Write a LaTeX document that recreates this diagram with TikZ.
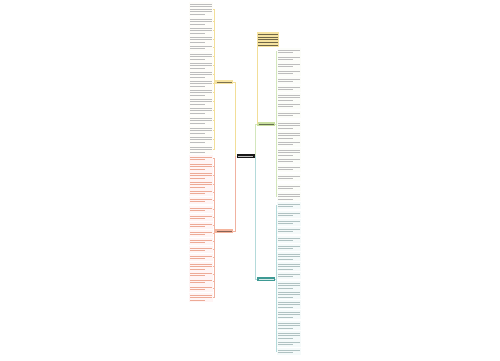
\documentclass[tikz,border=0pt]{standalone}
\definecolor{ylw}{HTML}{F6E3A0}
\definecolor{ylwline}{HTML}{F2DE98}
\definecolor{pnk}{HTML}{F5B49C}
\definecolor{pnkline}{HTML}{F0B2A0}
\definecolor{grn}{HTML}{C9DFA0}
\definecolor{grnline}{HTML}{D3E6BC}
\definecolor{blu}{HTML}{3E9A94}
\definecolor{bluline}{HTML}{B4DADA}
\definecolor{txtgray}{HTML}{BDBDBD}
\definecolor{txtpink}{HTML}{EDAA96}
\definecolor{txtblue}{HTML}{B0C2C2}
\begin{document}
\begin{tikzpicture}[x=1pt,y=-1pt,
  tcol/.store in=\tcol, tcol=txtgray,
  txt/.style={inner sep=0pt,minimum width=24pt,minimum height=#1*2.6pt+1.2pt,anchor=north west,
    path picture={\foreach \k in {1,...,#1}{
      \pgfmathsetmacro\ee{\k==#1 ? 8 : 1}
      \draw[line width=0.9pt,\tcol] ([xshift=1pt,yshift=-\k*2.6pt+0.8pt]path picture bounding box.north west)
        -- ([xshift=-\ee pt,yshift=-\k*2.6pt+0.8pt]path picture bounding box.north east);}}},
  br/.style={inner sep=0pt,minimum width=18pt,minimum height=3.8pt,fill=#1,
    path picture={\draw[line width=1pt,\tcol] ([xshift=1.5pt]path picture bounding box.west)
        -- ([xshift=-1.5pt]path picture bounding box.east);}},
  link/.style={line width=0.6pt,#1}]
\useasboundingbox (0,0) rectangle (500,360);

% centre and branches
\node[br=black!90,tcol=white!75!black] (ctr) at (245.5,156) {};
\node[br=ylw,tcol=ylw!50!black] (yel) at (224,82) {};
\node[br=pnk,tcol=pnk!55!black] (pin) at (224,231) {};
\node[br=grn,tcol=grn!50!black] (gre) at (266,124) {};
\node[br=blu,tcol=white!80!blu] (blu) at (266,279) {};
\node[inner sep=0pt,minimum width=22pt,minimum height=15pt,fill=ylw,anchor=north west,
  path picture={\foreach \k in {1,...,5}
    \draw[line width=0.9pt,ylw!45!black] ([xshift=1pt,yshift=-\k*2.7pt+0.6pt]path picture bounding box.north west)
      -- ([xshift=-1pt,yshift=-\k*2.7pt+0.6pt]path picture bounding box.north east);}] (note) at (257,32) {};

\draw[link=ylwline] (ctr.west) -- ++(-1,0) |- (yel.east);
\draw[link=pnkline] (ctr.west) -- ++(-1,0) |- (pin.east);
\draw[link=grnline] (ctr.east) -- ++(1,0) |- (gre.west);
\draw[link=bluline] (ctr.east) -- ++(1,0) |- (blu.west);
\draw[link=ylwline] (note.south west) ++(0.5,0) coordinate (nt) -- (nt |- gre.west);

% left column, yellow branch
\foreach \t/\n [count=\i] in {2/5,17/3,26/3,35/3,44/2,52/3,61/3,70/3,79/3,88/3,97/3,106/3,116/3,126/3,135/3,145/3}
  \node[txt=\n,fill=ylw!6] (yt\i) at (189,\t) {};
\coordinate (ysp) at ([xshift=-1pt]yel.west);
\draw[link=ylwline] (yel.west) -- (ysp);
\foreach \i in {1,...,16}
  \draw[link=ylwline] (ysp) |- (yt\i.east);

% left column, pink branch
\foreach \t/\n [count=\i] in {155/2,162/3,171/3,180/3,189/2,197/2,206/2,214/2,222/2,230/2,238/2,246/2,254/2,262/3,271/2,278/2,285/2,293/3}
  \node[txt=\n,tcol=txtpink,fill=red!4] (pt\i) at (189,\t) {};
\coordinate (psp) at ([xshift=-1pt]pin.west);
\draw[link=pnkline] (pin.west) -- (psp);
\foreach \i in {1,...,18}
  \draw[link=pnkline] (psp) |- (pt\i.east);

% right column, green branch
\foreach \t/\n [count=\i] in {48/2,55/2,62/2,69/2,77/2,85/2,93/3,102/2,111/2,121/3,131/3,140/2,148/3,157/2,165/2,174/2,184/2,192/3}
  \node[txt=\n,fill=grn!6] (gt\i) at (277,\t) {};
\coordinate (gsp) at ([xshift=1pt]gre.east);
\draw[link=grnline] (gre.east) -- (gsp);
\foreach \i in {1,...,18}
  \draw[link=grnline] (gsp) |- (gt\i.west);

% right column, blue branch
\foreach \t/\n [count=\i] in {202/2,211/2,219/2,227/2,236/2,244/2,252/3,262/3,272/2,281/3,290/3,300/3,310/3,321/3,331/3,340/2,348/2}
  \node[txt=\n,tcol=txtblue,fill=blu!5] (bt\i) at (277,\t) {};
\coordinate (bsp) at ([xshift=1pt]blu.east);
\draw[link=bluline] (blu.east) -- (bsp);
\foreach \i in {1,...,17}
  \draw[link=bluline] (bsp) |- (bt\i.west);

\end{tikzpicture}
\end{document}
